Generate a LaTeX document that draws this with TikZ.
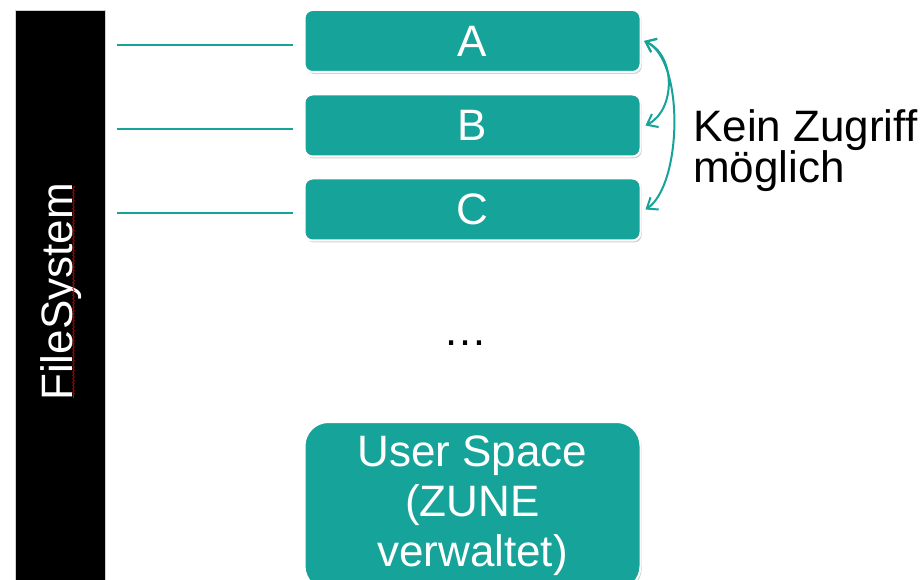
\documentclass[tikz,border=0pt]{standalone}
\usepackage{fontspec}
\setmainfont{Liberation Sans}
\usetikzlibrary{arrows.meta,shadows,decorations.pathmorphing}
\definecolor{tealc}{RGB}{22,163,154}
\begin{document}
\begin{tikzpicture}[x=0.75pt,y=-0.75pt,
  bigtext/.style={font=\fontsize{33}{37.5}\selectfont},
  box/.style={draw=white, line width=1.5pt, fill=tealc, rounded corners=6pt,
    minimum width=252pt, minimum height=46.5pt, inner sep=0pt, text=white, bigtext,
    drop shadow={opacity=0.35, shadow xshift=1pt, shadow yshift=-1.5pt}},
  link/.style={draw=tealc, line width=2.1pt},
  arr/.style={draw=tealc, line width=1.5pt, {Straight Barb[length=7pt,width=11pt]}-{Straight Barb[length=7pt,width=11pt]}}
]
\useasboundingbox (0,0) rectangle (920,580);
\clip (0,0) rectangle (920,580);
\fill[white] (0,0) rectangle (920,580);
% file system bar
\node[draw=gray!35, line width=0.8pt, fill=black, minimum width=67.5pt, minimum height=435pt, inner sep=0pt, anchor=north west] (fs) at (15,10) {};
\node[rotate=90, anchor=base, text=white, bigtext] (fstext) at (72,292) {FileSystem};
\draw[red!80!black, line width=0.5pt, decorate, decoration={snake, segment length=2.5pt, amplitude=0.6pt}] (73.5,186) -- (73.5,398);
% boxes
\node[box] (A) at (472.5,41) {A};
\node[box] (B) at (472.5,125.5) {B};
\node[box] (C) at (472.5,209.5) {C};
\node[box, rounded corners=18pt, minimum height=126pt, align=center] (U) at (472.5,506) {User Space\\(ZUNE\\verwaltet)};
% links
\coordinate (la) at (117,45);
\coordinate (lb) at (117,129);
\coordinate (lc) at (117,213);
\draw[link] (la) -- ([xshift=-8pt]A.west |- la);
\draw[link] (lb) -- ([xshift=-8pt]B.west |- lb);
\draw[link] (lc) -- ([xshift=-8pt]C.west |- lc);
% arrows
\draw[arr] ([xshift=2pt]A.east) .. controls (676,55) and (676,110) .. ([xshift=3pt]B.east);
\draw[arr] ([xshift=2pt]A.east) .. controls (685,60) and (682,185) .. ([xshift=3pt]C.east);
% labels
\node[anchor=base west, align=left, font=\fontsize{33}{31}\selectfont, inner sep=0pt] (kz) at (693,183) {Kein Zugriff\\möglich};
\node[bigtext, inner sep=0pt] (dots) at (465,343) {…};
\end{tikzpicture}
\end{document}
